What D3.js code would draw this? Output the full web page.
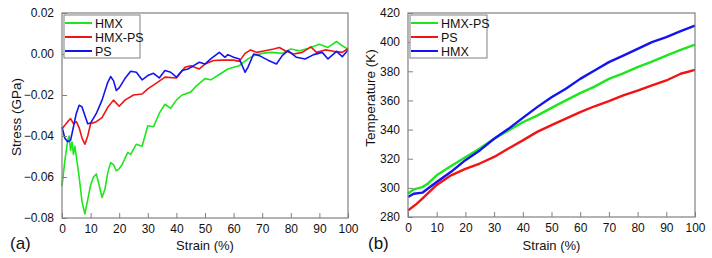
<!DOCTYPE html>
<html>
<head>
<meta charset="utf-8">
<script src="https://cdn.jsdelivr.net/npm/d3@7"></script>
<style>
  body { margin: 0; background: #fff; }
  svg { display: block; font-family: "Liberation Sans", Arial, sans-serif; }
</style>
</head>
<body>
<div id="chart"></div>
<script>
// ---- data: [strain %, value] ----
var stressHMX = [[0,-0.0645],[1,-0.052],[2,-0.042],[2.5,-0.040],[3,-0.047],[3.5,-0.043],[4,-0.049],[4.5,-0.045],[5,-0.050],
  [6,-0.060],[7,-0.072],[8,-0.078],[9,-0.071],[10,-0.064],[11,-0.060],[12,-0.0585],[13,-0.064],[14,-0.070],[15,-0.066],
  [16,-0.058],[17,-0.053],[18,-0.054],[19,-0.057],[20,-0.056],[21,-0.054],[23,-0.048],[24,-0.049],[26,-0.044],[28,-0.045],
  [30,-0.035],[32,-0.0355],[34,-0.029],[36,-0.0245],[38,-0.0265],[40,-0.0225],[42,-0.020],[45,-0.0186],[47,-0.0155],
  [50,-0.012],[52,-0.0126],[55,-0.010],[58,-0.0073],[60,-0.0065],[62,-0.0057],[65,-0.0024],[67,-0.0008],[70,0.0003],
  [73,0.0008],[77,0.0003],[80,0.0024],[83,0.0016],[86,0.0027],[90,0.0048],[93,0.0032],[96,0.0061],[98,0.004],[100,0.0024]];
var stressHMXPS = [[0,-0.0364],[1,-0.0348],[2,-0.033],[3,-0.0315],[4,-0.034],[5,-0.033],[6,-0.036],[7,-0.041],[8,-0.044],
  [9,-0.040],[10,-0.034],[12,-0.033],[14,-0.031],[16,-0.026],[18,-0.0225],[20,-0.0255],[22,-0.0225],[25,-0.020],
  [28,-0.0195],[30,-0.017],[33,-0.0142],[36,-0.0113],[40,-0.0117],[43,-0.0065],[45,-0.0057],[48,-0.0073],[50,-0.0049],
  [53,-0.0032],[56,-0.003],[60,-0.003],[62,-0.0036],[64,0.0003],[66,0.002],[68,0.0008],[71,0.0016],[74,0.0024],
  [76,0.0032],[78,0.0016],[81,0],[84,0.0008],[87,0.0035],[89,0.0008],[92,0.002],[95,0.0013],[98,0.0008],[100,0.0027]];
var stressPS = [[0,-0.0356],[1,-0.0411],[2,-0.0428],[3,-0.042],[4,-0.0356],[5,-0.029],[6,-0.025],[7,-0.0258],[8,-0.030],
  [9,-0.034],[10,-0.0337],[12,-0.029],[14,-0.0225],[16,-0.0138],[17,-0.011],[18,-0.013],[19,-0.0178],[20,-0.0165],
  [22,-0.012],[24,-0.0084],[26,-0.0089],[28,-0.0126],[30,-0.0105],[32,-0.0094],[34,-0.0117],[36,-0.0081],[38,-0.0089],
  [40,-0.0113],[42,-0.0081],[44,-0.0073],[46,-0.0057],[48,-0.004],[50,-0.0049],[52,-0.0024],[55,0.0008],[57,-0.0016],
  [58,-0.0003],[60,-0.0016],[62,-0.0024],[64,-0.0089],[65,-0.0065],[67,0],[69,-0.0008],[72,-0.003],[75,-0.0049],
  [77,-0.0008],[79,0.0016],[82,-0.0016],[85,-0.0024],[88,-0.0003],[91,0.0008],[93,-0.0024],[96,0.0013],[98,-0.0013],[100,0.002]];

var tempHMXPS = [[0,296],[2,299],[5,300.5],[7,303],[10,308.6],[15,315],[20,321],[25,327],[30,333.7],[35,339.4],[40,345],
  [45,349.6],[50,354.9],[55,360],[60,365],[65,369.5],[70,374.8],[75,378.6],[80,382.8],[85,386.7],[90,390.8],[95,394.7],[100,398.3]];
var tempPS = [[0,284.5],[3,289],[5,292.6],[10,302],[15,308.6],[20,313],[25,316.7],[30,321.2],[35,327],[40,332.6],[45,338.4],
  [50,343],[55,347.5],[60,352],[65,356],[70,359.5],[75,363.4],[80,366.8],[85,370.3],[90,373.7],[95,378.3],[100,381]];
var tempHMX = [[0,293.7],[2,296],[5,296.7],[10,304],[15,311],[20,319],[25,325.7],[30,333.7],[35,340.5],[40,348],[45,355.4],
  [50,362.2],[55,368],[60,374.8],[65,380.5],[70,386.3],[75,390.8],[80,395.4],[85,400],[90,403.4],[95,407.5],[100,411.3]];

var strainTicks = [0,10,20,30,40,50,60,70,80,90,100];
var stressTicks = [-0.08,-0.06,-0.04,-0.02,0.00,0.02];
var tempTicks = [280,300,320,340,360,380,400,420];

var green = "#1ee61e", red = "#f01414", blue = "#1414f0";

var svg = d3.select("#chart").append("svg")
    .attr("width", 712)
    .attr("height", 258);

function panel(o) {
  var x = d3.scaleLinear().domain([0, 100]).range([o.left, o.right]);
  var y = d3.scaleLinear().domain(o.yDomain).range([o.bottom, o.top]);
  var g = svg.append("g");

  // series
  var line = d3.line().x(function(d) { return x(d[0]); }).y(function(d) { return y(d[1]); });
  o.series.forEach(function(s) {
    g.append("path").datum(s.data)
      .attr("fill", "none").attr("stroke", s.color)
      .attr("stroke-width", o.lineWidth).attr("stroke-linejoin", "round")
      .attr("d", line);
  });

  // axes, ticks pointing inward
  var xa = g.append("g").attr("transform", "translate(0," + o.bottom + ")")
    .call(d3.axisBottom(x).tickValues(strainTicks).tickSizeInner(-5).tickSizeOuter(0).tickPadding(6));
  var ya = g.append("g").attr("transform", "translate(" + o.left + ",0)")
    .call(d3.axisLeft(y).tickValues(o.yTicks).tickFormat(o.yFormat).tickSizeInner(-5).tickSizeOuter(0).tickPadding(8));
  [xa, ya].forEach(function(a) {
    a.select(".domain").remove();
    a.selectAll("line").attr("stroke", "#808080");
    a.selectAll("text").attr("font-size", 12).attr("fill", "#111").attr("font-family", "Liberation Sans, Arial, sans-serif");
  });

  // frame
  g.append("rect").attr("x", o.left).attr("y", o.top)
    .attr("width", o.right - o.left).attr("height", o.bottom - o.top)
    .attr("fill", "none").attr("stroke", "#808080").attr("stroke-width", 1.2);

  // legend
  var lg = g.append("g");
  lg.append("rect").attr("x", o.left + 2).attr("y", o.top + 2)
    .attr("width", o.legendW).attr("height", 43)
    .attr("fill", "#fff").attr("stroke", "#808080").attr("stroke-width", 1);
  o.series.forEach(function(s, i) {
    var yy = o.top + 10 + i * 14;
    lg.append("line").attr("x1", o.left + 3).attr("x2", o.left + 30)
      .attr("y1", yy).attr("y2", yy).attr("stroke", s.color).attr("stroke-width", 2);
    lg.append("text").attr("x", o.left + 33).attr("y", yy + 4.5)
      .attr("font-size", 12.5).attr("fill", "#111").text(s.name);
  });

  // titles
  svg.append("text").attr("x", (o.left + o.right) / 2).attr("y", 250)
    .attr("text-anchor", "middle").attr("font-size", 13).attr("fill", "#111").text("Strain (%)");
  svg.append("text").attr("transform", "translate(" + o.yLabelX + "," + o.yLabelY + ") rotate(-90)")
    .attr("text-anchor", "middle").attr("font-size", 13.5).attr("fill", "#111").text(o.yLabel);
  svg.append("text").attr("x", o.tagX).attr("y", 249)
    .attr("font-size", 17).attr("fill", "#111").text(o.tag);
}

panel({
  left: 62, right: 348, top: 13, bottom: 218,
  yDomain: [-0.08, 0.02], yTicks: stressTicks, yFormat: d3.format(".2f"),
  lineWidth: 1.6, legendW: 76,
  yLabel: "Stress (GPa)", yLabelX: 21, yLabelY: 117, tag: "(a)", tagX: 10,
  series: [
    {name: "HMX", color: green, data: stressHMX},
    {name: "HMX-PS", color: red, data: stressHMXPS},
    {name: "PS", color: blue, data: stressPS}
  ]
});

panel({
  left: 408, right: 695, top: 13, bottom: 217,
  yDomain: [280, 420], yTicks: tempTicks, yFormat: d3.format("d"),
  lineWidth: 2.4, legendW: 77,
  yLabel: "Temperature (K)", yLabelX: 375, yLabelY: 98, tag: "(b)", tagX: 368,
  series: [
    {name: "HMX-PS", color: green, data: tempHMXPS},
    {name: "PS", color: red, data: tempPS},
    {name: "HMX", color: blue, data: tempHMX}
  ]
});
</script>
</body>
</html>
